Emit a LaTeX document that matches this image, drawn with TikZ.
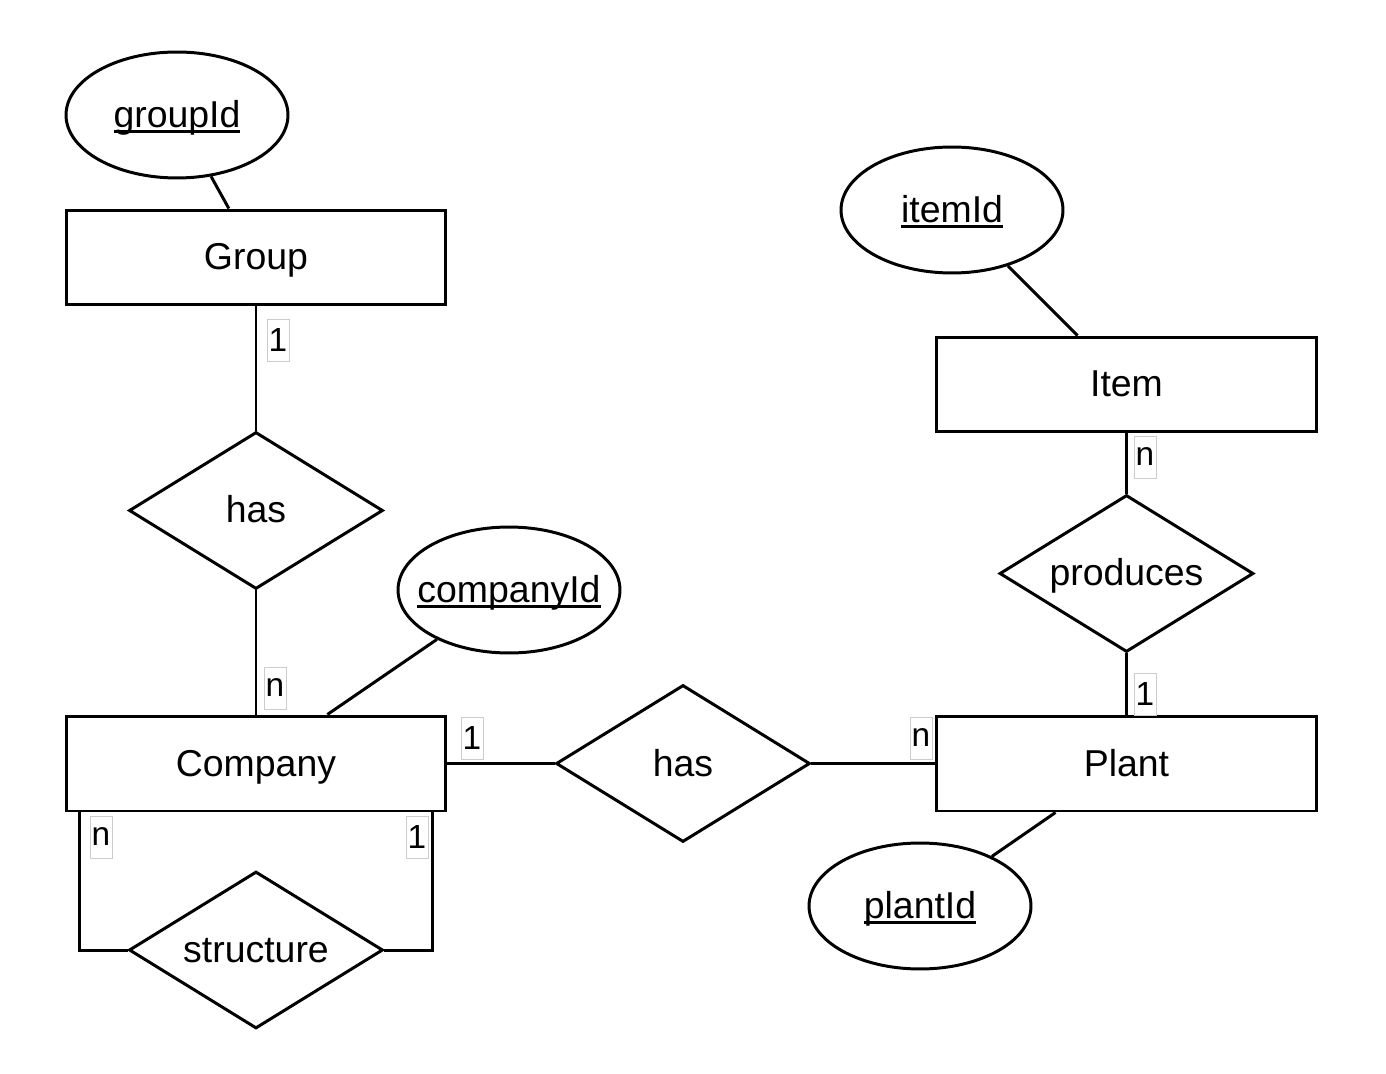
\documentclass[tikz,border=0pt]{standalone}
\usepackage{fontspec}
\setmainfont{Liberation Sans}
\usepackage{tikz}
\usetikzlibrary{shapes.geometric,positioning}
\newcommand{\pk}[1]{\setbox0\hbox{#1}\makebox[0pt]{\rlap{\rule[-3pt]{\wd0}{1.6pt}}\box0}}
\tikzset
{
  entity/.style   = {rectangle, draw=black, line width=1.7pt, minimum width=7.6cm, minimum height=1.9cm, font=\fontsize{21.3}{25}\selectfont, text height=0.6cm, text depth=0.1cm},
  attr/.style     = {ellipse, draw=black, line width=1.7pt, minimum width=4.44cm, minimum height=2.52cm, inner sep=0pt, font=\fontsize{21.3}{25}\selectfont, text height=0.6cm, text depth=0.1cm},
  relation/.style = {diamond, draw=black, line width=1.7pt, minimum width=5.08cm, minimum height=3.14cm, aspect=1.62, inner sep=0pt, font=\fontsize{21.3}{25}\selectfont, text height=0.6cm, text depth=0.1cm},
  card/.style     = {rectangle, draw=black!20, line width=0.4pt, minimum width=0.44cm, minimum height=0.84cm, inner sep=1pt, font=\fontsize{19}{22}\selectfont}
}
\begin{document}
\begin{tikzpicture}[x=0.02cm, y=-0.02cm, line width=1.7pt]
            \useasboundingbox (0,0) rectangle (1386,1074);
            % entities
            \node [entity] (group)   at (256,257.5)    {Group};
            \node [entity] (company) at (256,763.5)    {Company};
            \node [entity] (item)    at (1126.5,384.5) {Item};
            \node [entity] (plant)   at (1126.5,763.5) {Plant};
            % attributes
            \node [attr] (groupId)   at (177,115) {\pk{groupId}};
            \node [attr] (companyId) at (509,590) {\pk{companyId}};
            \node [attr] (itemId)    at (952,210) {\pk{itemId}};
            \node [attr] (plantId)   at (920,906) {\pk{plantId}};
            % relations
            \node [relation] (hasGroup)  at (256,510.5)    {has};
            \node [relation] (hasPlant)  at (683,763.5)    {has};
            \node [relation] (produces)  at (1126.5,573.5) {produces};
            \node [relation] (structure) at (256,950)      {structure};
            % connectors
            \draw (groupId) -- (group);
            \draw (companyId) -- (company);
            \draw (itemId) -- (item);
            \draw (plantId) -- (plant);
            \draw (group) -- (hasGroup);
            \draw (hasGroup) -- (company);
            \draw (company) -- (hasPlant);
            \draw (hasPlant) -- (plant);
            \draw (item) -- (produces);
            \draw (produces) -- (plant);
            \draw ([xshift=0.3cm]company.south west) |- (structure.west);
            \draw ([xshift=-0.3cm]company.south east) |- (structure.east);
            % cardinalities
            \node [card] (cGroup)    at (278,340)    {1};
            \node [card] (cCompany)  at (275,688)    {n};
            \node [card] (cOwner)    at (472,738)    {1};
            \node [card] (cPlant)    at (921,738)    {n};
            \node [card] (cItem)     at (1145,457)   {n};
            \node [card] (cMaker)    at (1145,694)   {1};
            \node [card] (cPart)     at (101,837)    {n};
            \node [card] (cWhole)    at (417,837)    {1};
\end{tikzpicture}
\end{document}
